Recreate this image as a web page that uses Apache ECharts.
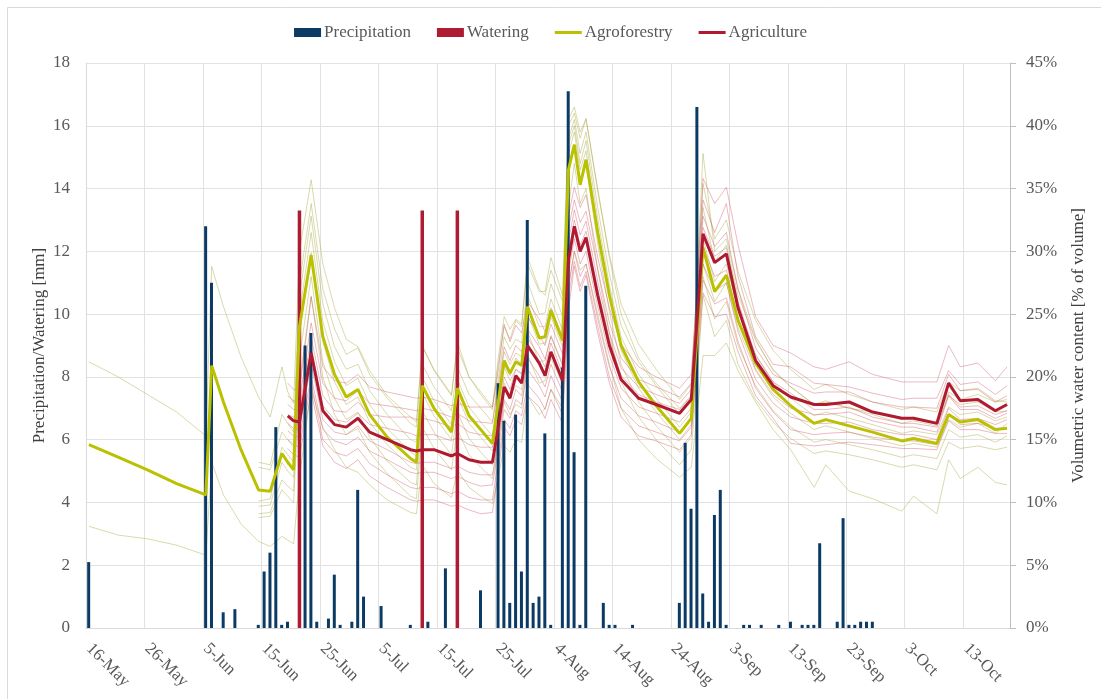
<!DOCTYPE html>
<html>
<head>
<meta charset="utf-8">
<script src="https://cdn.jsdelivr.net/npm/echarts@6/dist/echarts.min.js"></script>
<style>
  html, body { margin: 0; padding: 0; background: #ffffff; }
  #chart { width: 1101px; height: 699px; }
</style>
</head>
<body>
<div id="chart"></div>
<script>
// ---- Daily category axis: 16 May to 20 October ----
const MONTHS = ['Jan','Feb','Mar','Apr','May','Jun','Jul','Aug','Sep','Oct','Nov','Dec'];
const DAY_COUNT = 158;
const DAYS = [];
for (let i = 0; i < DAY_COUNT; i++) {
  const d = new Date(Date.UTC(2021, 4, 16 + i));
  DAYS.push(d.getUTCDate() + '-' + MONTHS[d.getUTCMonth()]);
}

// ---- Daily precipitation [mm]: [day index, mm] ----
const precipitation = [
  [0,2.1],[20,12.8],[21,11.0],[23,0.5],[25,0.6],[29,0.1],[30,1.8],[31,2.4],[32,6.4],[33,0.1],
  [34,0.2],[37,9.0],[38,9.4],[39,0.2],[41,0.3],[42,1.7],[43,0.1],[45,0.2],[46,4.4],[47,1.0],
  [50,0.7],[55,0.1],[58,0.2],[61,1.9],[67,1.2],[70,7.8],[71,6.6],[72,0.8],[73,6.8],[74,1.8],
  [75,13.0],[76,0.8],[77,1.0],[78,6.2],[79,0.1],[81,8.3],[82,17.1],[83,5.6],[84,0.1],[85,10.9],
  [88,0.8],[89,0.1],[90,0.1],[93,0.1],[101,0.8],[102,5.9],[103,3.8],[104,16.6],[105,1.1],[106,0.2],
  [107,3.6],[108,4.4],[109,0.1],[112,0.1],[113,0.1],[115,0.1],[118,0.1],[120,0.2],[122,0.1],[123,0.1],
  [124,0.1],[125,2.7],[128,0.2],[129,3.5],[130,0.1],[131,0.1],[132,0.2],[133,0.2],[134,0.2]
];

// ---- Watering events [mm]: [day index, mm] ----
const watering = [[36,13.3],[57,13.3],[63,13.3]];

// ---- Day indices at which soil moisture values are listed ----
const KNOTS = [0,5,10,15,20, 21,23,26,29,31, 33,34,35,36,38, 40,42,44,46,48, 51,55,56,57,59,
  62,63,65,67,69, 70,71,72,73,74, 75,77,78,79,81, 82,83,84,85,87, 89,91,94,97,101,
  103,104,105,107,109, 111,114,117,120,124, 126,130,134,139,141, 145,147,149,152,155, 157];

// ---- Volumetric water content [%], mean of each land use ----
const agroforestryMean = [14.6,13.6,12.6,11.5,10.6, 20.9,18.0,14.2,11.0,10.9, 13.9,13.2,12.6,24.0,29.7,
  23.2,20.2,18.4,19.0,17.0, 15.2,13.5,13.2,19.3,17.5, 15.6,19.1,16.9,15.8,14.7, 18.0,21.3,20.3,21.2,20.9,
  25.6,23.1,23.2,25.3,22.9, 36.5,38.5,35.3,37.3,31.5, 26.5,22.5,19.6,17.7,15.5, 16.7,23.5,30.3,26.8,28.1,
  24.5,21.1,19.0,17.7,16.3, 16.6,16.1,15.6,14.9,15.1, 14.7,17.0,16.4,16.6,15.8, 15.9];

const agricultureMean = [null,null,null,null,null, null,null,null,null,null, null,16.9,16.5,16.4,21.9,
  17.3,16.2,16.0,16.7,15.6, 15.0,14.2,14.1,14.2,14.2, 13.7,13.9,13.4,13.2,13.2, 16.0,19.2,18.3,20.1,19.5,
  22.5,21.1,20.1,22.0,19.7, 29.3,32.0,30.0,31.1,26.5, 22.5,19.8,18.3,17.8,17.1, 18.2,24.5,31.4,29.1,29.8,
  25.5,21.3,19.3,18.4,17.8, 17.8,18.0,17.2,16.7,16.7, 16.3,19.5,18.1,18.2,17.3, 17.8];

// ---- Individual agroforestry sensors [%] ----
const agroforestrySensors = [
  [21.2,20.0,18.6,17.2,15.3, 28.8,25.6,21.6,18.4,16.8, 20.8,18.8,17.9,30.0,35.7, 29.0,25.5,23.0,22.4,20.5,
   18.5,16.8,16.4,22.5,20.5, 18.5,22.8,20.0,18.6,17.4, 21.0,24.0,23.0,24.5,24.0, 29.5,27.0,26.5,28.5,26.0,
   40.5,41.5,39.5,40.5,35.0, 29.5,25.0,21.5,19.5,17.5, 18.5,28.0,37.8,30.0,31.0, 27.0,23.0,20.5,19.2,17.8,
   18.0,17.5,17.2,16.6,16.8, 16.4,18.8,18.2,18.6,18.0, 18.2],
  [null,null,null,null,null, null,null,null,13.2,13.0, 17.0,16.3,15.6,27.5,33.8, 27.0,23.8,21.8,22.3,20.2,
   18.3,16.3,16.0,22.4,20.6, 18.6,22.3,20.0,18.8,17.6, 21.5,24.8,23.8,24.6,24.2, 29.0,26.8,26.8,29.5,26.5,
   40.0,41.0,39.0,40.6,34.8, 29.7,25.8,22.6,20.6,18.2, 19.4,27.5,35.4,31.0,32.5, 28.4,24.5,22.1,20.6,19.0,
   19.4,18.6,18.0,17.4,17.6, 17.2,19.6,18.9,19.1,18.1, 18.0],
  [null,null,null,null,null, null,null,null,12.8,12.6, 15.6,15.0,14.4,26.4,32.8, 25.8,22.4,20.6,21.0,18.9,
   17.0,15.0,14.8,21.0,19.2, 17.3,20.8,18.6,17.5,16.4, 19.8,23.2,22.2,23.0,22.7, 27.6,25.0,25.1,27.4,24.8,
   39.0,40.5,37.8,39.5,33.5, 28.2,24.1,21.2,19.3,17.0, 18.2,25.6,33.5,29.2,30.5, 26.5,22.9,20.6,19.2,17.8,
   18.1,17.5,17.0,16.3,16.5, 16.1,18.5,17.8,18.0,17.2, 17.3],
  [null,null,null,null,null, null,null,null,10.1,10.3, 14.4,13.8,13.2,25.0,31.5, 24.4,21.2,19.3,19.9,17.8,
   15.9,14.0,13.7,20.0,18.1, 16.2,19.8,17.6,16.4,15.3, 18.6,22.0,21.0,21.9,21.6, 26.5,24.0,24.0,26.2,23.7,
   38.5,40.0,37.0,38.8,32.6, 27.3,23.2,20.2,18.3,16.0, 17.2,24.5,31.0,27.6,29.0, 25.3,21.8,19.6,18.3,16.9,
   17.2,16.7,16.2,15.5,15.7, 15.4,17.6,17.0,17.2,16.5, 16.8],
  [null,null,null,null,null, null,null,null,9.7,9.8, 13.2,12.5,12.0,23.5,29.9, 22.8,19.6,17.8,18.4,16.4,
   14.6,12.8,12.6,18.7,16.9, 15.0,18.5,16.3,15.2,14.1, 17.4,20.8,19.7,20.6,20.3, 25.0,22.6,22.7,24.8,22.4,
   37.8,39.5,36.5,38.0,31.8, 26.4,22.1,19.1,17.2,15.0, 16.2,23.0,29.0,26.0,27.5, 23.9,20.5,18.4,17.1,15.8,
   16.1,15.6,15.1,14.5,14.7, 14.4,16.6,16.0,16.3,15.5, 16.3],
  [null,null,null,null,null, null,null,null,9.1,9.2, 11.8,11.3,10.9,21.5,28.0, 21.2,18.3,16.6,17.2,15.2,
   13.3,11.6,11.4,17.3,15.6, 13.8,17.2,15.1,14.0,13.0, 16.0,19.5,18.5,19.3,19.0, 23.6,21.2,21.3,23.3,21.0,
   36.5,38.5,35.5,37.0,30.6, 25.2,21.0,18.0,16.1,14.0, 15.2,21.5,28.0,24.6,26.0, 22.5,19.3,17.3,16.0,14.8,
   15.0,14.6,14.2,13.6,13.8, 13.5,15.8,15.2,15.4,14.8, 15.3],
  [null,null,null,null,null, null,null,null,8.8,8.9, 11.0,10.5,10.0,19.5,26.4, 20.0,17.0,15.4,15.9,14.0,
   12.3,10.5,10.3,16.0,14.3, 12.6,15.8,13.8,12.8,11.9, 14.8,18.0,17.0,17.8,17.5, 21.8,19.5,19.7,21.5,19.4,
   33.5,37.0,33.8,35.0,28.5, 23.5,19.6,16.8,15.0,13.0, 14.2,19.8,26.5,23.2,24.5, 21.0,18.2,16.4,15.1,13.9,
   14.1,13.8,13.4,12.8,13.0, 12.6,14.8,14.3,14.5,14.2, 14.4],
  [8.1,7.4,7.1,6.6,5.8, 13.2,10.6,8.3,6.9,6.5, 7.3,7.0,6.7,12.0,19.0, 16.0,14.2,12.8,12.4,11.4,
   10.2,9.2,9.1,13.0,11.5, 10.4,12.6,11.2,10.5,9.9, 12.0,14.5,14.0,15.0,14.8, 18.5,17.0,17.5,19.0,17.5,
   27.0,30.0,28.5,29.0,25.0, 21.0,17.5,15.0,13.5,12.0, 12.8,17.0,21.7,21.7,22.7, 20.5,18.0,15.8,14.2,11.2,
   13.0,10.9,10.3,9.3,10.5, 9.1,13.4,11.9,12.8,11.6, 11.4]
];

// ---- Individual agriculture sensors [%] ----
const agricultureSensors = [
  [null,null,null,null,null, null,null,null,null,null, null,19.5,19.0,18.9,26.4, 20.8,19.7,19.5,20.2,19.2,
   18.8,18.4,18.3,18.4,18.2, 17.7,17.9,17.6,17.6,17.6, 20.5,24.2,22.8,24.1,23.5, 26.0,24.6,23.6,25.5,23.2,
   32.8,35.1,33.5,34.5,29.5, 25.5,22.6,20.8,20.0,19.1, 20.2,27.0,35.8,33.8,35.1, 30.5,24.8,22.5,21.9,20.8,
   20.6,21.2,20.2,19.6,19.6, 19.6,22.5,20.8,21.1,19.7, 20.8],
  [null,null,null,null,null, null,null,null,null,null, null,18.5,18.1,18.0,24.3, 19.5,18.3,18.1,18.9,17.9,
   17.7,17.4,17.3,17.5,17.3, 16.8,17.1,16.5,16.4,16.3, 19.2,22.4,21.3,22.5,22.0, 24.8,23.3,22.5,24.2,21.8,
   31.8,34.1,32.3,33.2,28.6, 24.3,21.5,19.8,19.2,18.4, 19.5,26.5,34.1,31.5,33.8, 28.0,23.2,21.0,20.8,19.5,
   19.4,19.2,18.7,18.2,18.3, 18.3,20.5,19.4,19.6,18.6, 19.3],
  [null,null,null,null,null, null,null,null,null,null, null,17.8,17.4,17.3,23.2, 18.5,17.3,17.2,18.0,17.0,
   16.8,16.8,16.6,16.7,16.5, 16.0,16.3,15.6,15.4,15.3, 17.8,21.0,20.1,21.5,21.0, 23.8,22.4,21.4,23.2,20.9,
   30.8,33.3,31.3,32.4,27.6, 23.5,20.7,19.2,18.6,17.9, 19.0,25.8,32.8,30.4,31.5, 27.0,22.3,20.2,19.5,18.7,
   18.8,18.8,18.0,17.6,17.6, 17.5,20.2,18.9,19.0,18.0, 18.5],
  [null,null,null,null,null, null,null,null,null,null, null,17.0,16.8,16.7,22.4, 17.7,16.6,16.4,17.1,16.2,
   15.9,15.5,15.3,15.4,15.4, 14.9,15.2,14.6,14.4,14.4, 16.8,20.0,19.0,20.6,20.2, 23.1,21.7,20.8,22.7,20.3,
   29.8,32.5,30.5,31.6,27.0, 23.0,20.1,18.6,18.0,17.4, 18.5,25.0,31.9,29.6,30.3, 26.0,21.7,19.6,18.7,17.4,
   17.4,17.6,16.8,16.3,16.3, 16.0,18.6,17.6,17.7,17.0, 17.3],
  [null,null,null,null,null, null,null,null,null,null, null,16.3,15.9,15.8,21.0, 16.6,15.6,15.4,16.1,14.9,
   14.2,13.2,13.1,13.2,13.2, 12.7,12.9,12.4,12.2,12.2, 15.0,18.2,17.4,19.0,18.5, 21.5,20.1,19.2,21.0,18.8,
   28.3,31.0,29.0,30.0,25.6, 21.7,19.1,17.6,17.1,16.4, 17.5,23.8,30.4,28.0,28.5, 24.6,20.6,18.6,17.5,17.0,
   17.0,17.2,16.5,16.0,16.0, 15.6,18.5,17.4,17.4,16.7, 17.1],
  [null,null,null,null,null, null,null,null,null,null, null,15.7,15.3,15.2,20.0, 15.8,14.9,14.6,15.2,14.1,
   13.4,12.4,12.3,12.4,12.4, 11.9,12.1,11.6,11.3,11.4, 14.2,17.4,16.7,18.2,17.8, 20.6,19.3,18.4,20.1,18.0,
   27.3,30.0,28.0,29.0,24.6, 20.8,18.3,16.9,16.4,15.6, 16.8,22.8,29.0,26.8,27.5, 23.6,19.8,17.9,16.8,16.3,
   16.3,16.4,15.8,15.4,15.4, 15.0,17.5,16.6,16.7,16.2, 16.6],
  [null,null,null,null,null, null,null,null,null,null, null,15.0,14.6,14.4,19.5, 15.0,14.0,13.7,14.3,13.1,
   12.2,11.2,11.1,11.2,11.2, 10.7,10.9,10.4,10.2,10.2, 13.3,16.6,15.9,17.3,16.9, 19.4,18.3,17.4,19.0,17.0,
   26.3,29.2,27.2,28.4,24.0, 20.0,17.5,16.1,15.6,14.9, 16.0,22.0,27.7,25.8,26.3, 22.8,19.1,17.2,15.8,15.4,
   15.5,15.6,15.2,14.9,14.9, 14.6,17.0,16.2,16.3,15.9, 16.0],
  [null,null,null,null,null, null,null,null,null,null, null,14.3,13.8,13.6,18.8, 14.5,13.2,12.7,13.4,12.1,
   11.2,10.2,10.1,10.2,10.2, 9.7,9.8,9.4,9.1,9.2, 12.5,16.0,15.3,16.6,16.2, 18.5,17.6,16.7,18.2,16.3,
   25.3,28.8,26.8,28.1,23.5, 19.5,16.8,15.3,14.9,14.2, 15.4,21.0,26.7,24.8,25.0, 22.0,18.5,16.7,14.7,14.5,
   14.6,14.8,14.6,14.3,14.3, 14.2,16.5,15.8,15.8,15.5, 15.5]
];

// ---- Styling ----
const FONT = '"Liberation Serif", "Times New Roman", serif';
const TEXT = '#595959';
const GRID = '#e2e2e2';
const C_PRECIP = '#0b3a64';
const C_WATER = '#ae1b33';
const C_AGROF = '#bac100';
const C_AGRIC = '#b01a30';
// Legend mark for the line series: a flat stroke instead of a marker
const LINE_ICON = 'path://M0,0 L27,0 L27,3 L0,3 Z';

function toPoints(values) {
  const out = [];
  KNOTS.forEach((k, i) => { if (values[i] != null) out.push([DAYS[k], values[i]]); });
  return out;
}
function toBars(list) {
  return list.map(p => [DAYS[p[0]], p[1]]);
}

const series = [];
agroforestrySensors.forEach((vals, i) => series.push({
  name: 'Agroforestry sensor ' + (i + 1), type: 'line', yAxisIndex: 1, silent: true,
  symbol: 'none', z: 2, data: toPoints(vals),
  lineStyle: { width: 1, color: 'rgba(170,174,70,0.45)' }
}));
agricultureSensors.forEach((vals, i) => series.push({
  name: 'Agriculture sensor ' + (i + 1), type: 'line', yAxisIndex: 1, silent: true,
  symbol: 'none', z: 2, data: toPoints(vals),
  lineStyle: { width: 1, color: 'rgba(205,70,95,0.38)' }
}));
series.push({
  name: 'Precipitation', type: 'bar', yAxisIndex: 0, barWidth: 3, barGap: '-100%', z: 3,
  itemStyle: { color: C_PRECIP }, data: toBars(precipitation)
});
series.push({
  name: 'Watering', type: 'bar', yAxisIndex: 0, barWidth: 3.5, barGap: '-100%', z: 3,
  itemStyle: { color: C_WATER }, data: toBars(watering)
});
series.push({
  name: 'Agroforestry', type: 'line', yAxisIndex: 1, symbol: 'none', z: 5,
  itemStyle: { color: C_AGROF }, lineStyle: { width: 3, color: C_AGROF },
  data: toPoints(agroforestryMean)
});
series.push({
  name: 'Agriculture', type: 'line', yAxisIndex: 1, symbol: 'none', z: 6,
  itemStyle: { color: C_AGRIC }, lineStyle: { width: 3, color: C_AGRIC },
  data: toPoints(agricultureMean)
});

const chart = echarts.init(document.getElementById('chart'), null, { renderer: 'canvas' });
chart.setOption({
  animation: false,
  backgroundColor: '#ffffff',
  textStyle: { fontFamily: FONT },
  graphic: [{
    type: 'rect', silent: true, z: -10,
    shape: { x: 7.5, y: 7.5, width: 1100, height: 700 },
    style: { fill: null, stroke: '#d9d9d9', lineWidth: 1 }
  }],
  legend: {
    data: [
      { name: 'Precipitation', icon: 'rect' },
      { name: 'Watering', icon: 'rect' },
      { name: 'Agroforestry', icon: LINE_ICON },
      { name: 'Agriculture', icon: LINE_ICON }
    ],
    top: 19, left: 'center', itemWidth: 27, itemHeight: 9, itemGap: 26,
    textStyle: { fontFamily: FONT, fontSize: 17, color: TEXT, padding: [0, 0, 0, -2] }
  },
  grid: { left: 86, right: 91, top: 63, bottom: 71, containLabel: false },
  xAxis: {
    type: 'category', data: DAYS, boundaryGap: true,
    axisLine: { show: true, lineStyle: { color: '#d9d9d9' } },
    axisTick: { show: false, interval: 9 },
    axisLabel: { interval: 9, rotate: -45, fontFamily: FONT, fontSize: 17, color: TEXT, margin: 18 },
    splitLine: { show: true, interval: 9, lineStyle: { color: GRID, width: 1 } }
  },
  yAxis: [{
    type: 'value', min: 0, max: 18, interval: 2, position: 'left',
    name: 'Precipitation/Watering [mm]', nameLocation: 'middle', nameGap: 38, nameMoveOverlap: false,
    nameTextStyle: { fontFamily: FONT, fontSize: 17, color: '#404040' },
    axisLine: { show: true, lineStyle: { color: '#d9d9d9' } },
    axisTick: { show: false },
    axisLabel: { fontFamily: FONT, fontSize: 17, color: TEXT, margin: 16 },
    splitLine: { show: true, lineStyle: { color: GRID, width: 1 } }
  }, {
    type: 'value', min: 0, max: 45, interval: 5, position: 'right',
    name: 'Volumetric water content [% of volume]', nameLocation: 'middle', nameGap: 60, nameMoveOverlap: false,
    nameTextStyle: { fontFamily: FONT, fontSize: 17, color: '#404040' },
    axisLine: { show: true, lineStyle: { color: '#bfbfbf' } },
    axisTick: { show: true, length: 6, lineStyle: { color: '#bfbfbf' } },
    axisLabel: { formatter: '{value}%', fontFamily: FONT, fontSize: 17, color: TEXT, margin: 16 },
    splitLine: { show: false }
  }],
  series: series
});
</script>
</body>
</html>
